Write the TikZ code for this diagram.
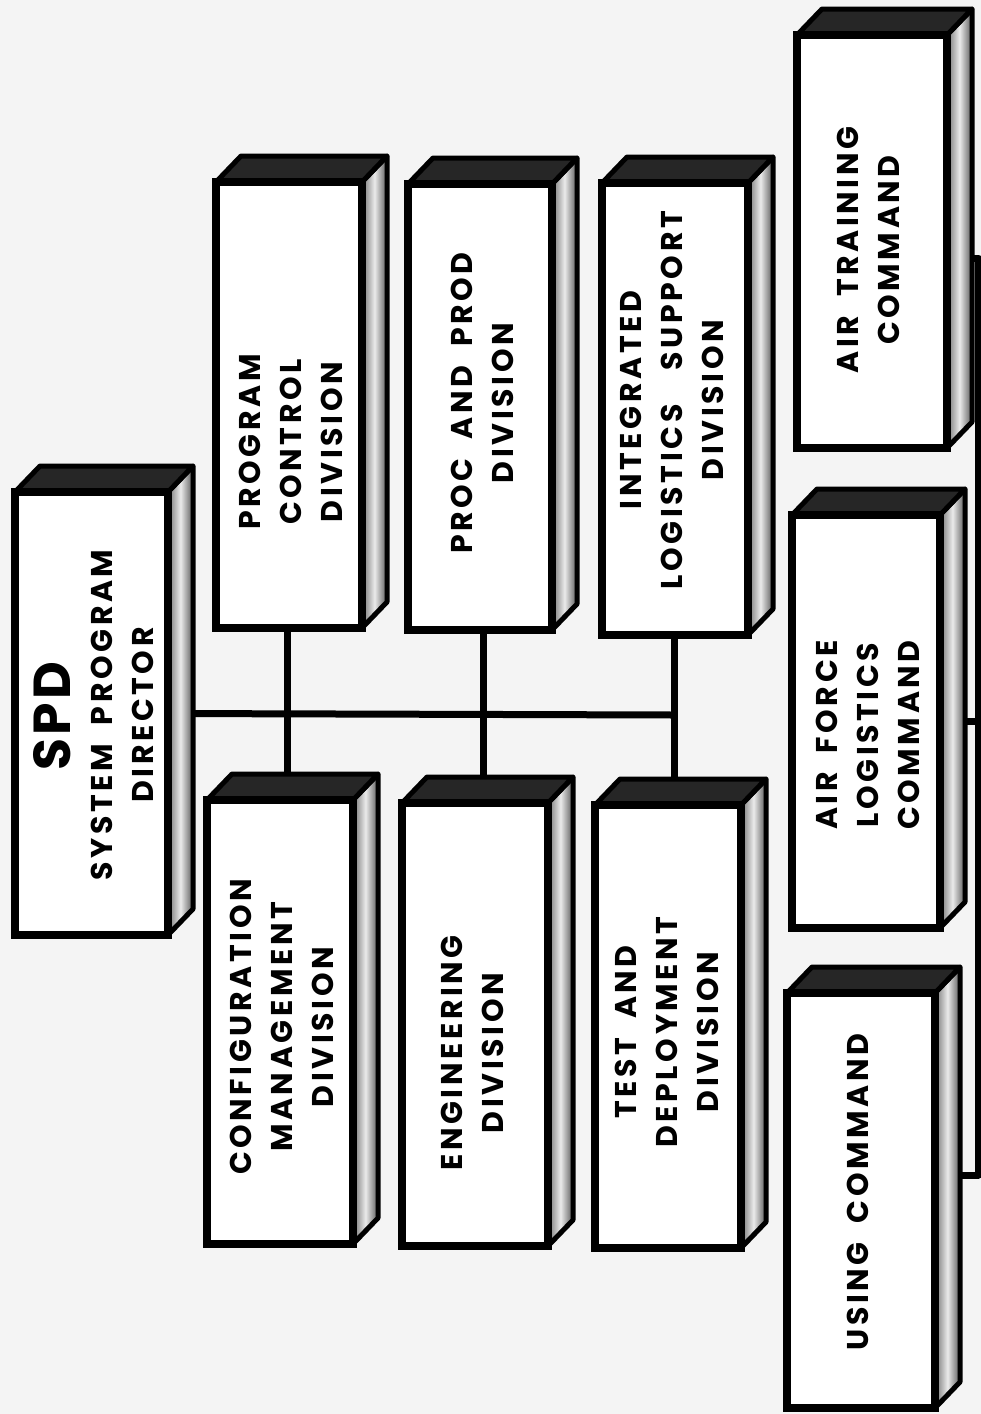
\documentclass[tikz,border=0pt]{standalone}
\usepackage{fontspec}
\setmainfont{Poppins}
\newfontfamily\lblfont{Poppins}[LetterSpace=12, WordSpace=1.9]
\newfontfamily\spdfont{Poppins}[LetterSpace=6]
\usetikzlibrary{calc}
\pgfdeclarelayer{bg}
\pgfsetlayers{bg,main}
\definecolor{paper}{HTML}{F4F4F4}
\tikzset{
  x=1pt, y=1pt,
  frontbox/.style={draw=black, line width=7.5pt, fill=white, inner sep=0pt, rectangle},
  topface/.style={fill=black!85, draw=black, line width=5pt, line join=round},
  sideface/.style={left color=black!55, right color=black!65, middle color=black!8, draw=black, line width=5pt, line join=round},
  conn/.style={draw=black, line width=7pt},
  lbl/.style={rotate=90, align=center, font=\lblfont\bfseries\fontsize{30}{41}\selectfont, inner sep=0pt},
  biglbl/.style={rotate=90, align=center, font=\spdfont\bfseries\fontsize{52}{56}\selectfont, inner sep=0pt},
}
\newcommand\dxd{25}
\newcommand\dyd{26}
\newcommand\threedbox[5]{%
  \path[sideface] (#4,-#3) -- ({#4+\dxd},{-#3+\dyd}) -- ({#4+\dxd},{-#5+\dyd}) -- (#4,-#5) -- cycle;
  \path[topface] (#2,-#3) -- ({#2+\dxd},{-#3+\dyd}) -- ({#4+\dxd},{-#3+\dyd}) -- (#4,-#3) -- cycle;
  \pgfmathsetmacro\bw{#4-#2}%
  \pgfmathsetmacro\bh{#5-#3}%
  \pgfmathsetmacro\bcx{(#2+#4)/2}%
  \pgfmathsetmacro\bcy{-(#3+#5)/2}%
  \node[frontbox, minimum width=\bw pt, minimum height=\bh pt] (#1) at (\bcx,\bcy) {};
}
\begin{document}
\begin{tikzpicture}
\useasboundingbox (0,0) rectangle (981,-1414);

% boxes
\threedbox{spd}{15}{492}{168}{935}
\threedbox{pc}{216}{182}{362}{628}
\threedbox{ppd}{408}{184}{552}{630}
\threedbox{ils}{602}{183}{748}{635}
\threedbox{cm}{207}{800}{353}{1244}
\threedbox{eng}{402}{803}{548}{1246}
\threedbox{td}{595}{805}{741}{1248}
\threedbox{atc}{797}{35}{947}{448}
\threedbox{aflc}{792}{515}{940}{928}
\threedbox{uc}{787}{993}{935}{1408}

% connector anchors
\coordinate (v1) at (287,-715);
\coordinate (v2) at (483,-715);
\coordinate (v3) at (674,-715);
\coordinate (rb1) at (978,-258);
\coordinate (rb2) at (978,-721);
\coordinate (rb3) at (978,-1175);

\begin{pgfonlayer}{bg}
  \fill[paper] (0,0) rectangle (981,-1414);
  \draw[conn] (spd.east) -- (v3);
  \draw[conn] (v1 |- pc.south) -- (v1 |- cm.north);
  \draw[conn] (v2 |- ppd.south) -- (v2 |- eng.north);
  \draw[conn] (v3 |- ils.south) -- (v3 |- td.north);
  \draw[conn, line join=round] (atc.east |- rb1) -- (rb1) -- (rb3) -- (uc.east |- rb3);
  \draw[conn] (aflc.east |- rb2) -- (rb2);
\end{pgfonlayer}

% labels
\node[biglbl] (spdt) at (52,-716) {SPD};
\node[lbl] (spdl) at (122,-715) {SYSTEM PROGRAM\\DIRECTOR};
\node[lbl] (pcl) at (291,-442) {PROGRAM\\CONTROL\\DIVISION};
\node[lbl] (ppdl) at (482,-403) {PROC AND PROD\\DIVISION};
\node[lbl] (ilsl) at (672,-400) {INTEGRATED\\LOGISTICS\hspace{0.5em} SUPPORT\\DIVISION};
\node[lbl] (cml) at (282,-1027) {CONFIGURATION\\MANAGEMENT\\DIVISION};
\node[lbl] (engl) at (472,-1053) {ENGINEERING\\DIVISION};
\node[lbl] (tdl) at (667,-1032) {TEST AND\\DEPLOYMENT\\DIVISION};
\node[lbl] (atcl) at (868,-250) {AIR TRAINING\\COMMAND};
\node[lbl] (aflcl) at (868,-735) {AIR FORCE\\LOGISTICS\\COMMAND};
\node[lbl] (ucl) at (858,-1192) {USING COMMAND};
\end{tikzpicture}
\end{document}
